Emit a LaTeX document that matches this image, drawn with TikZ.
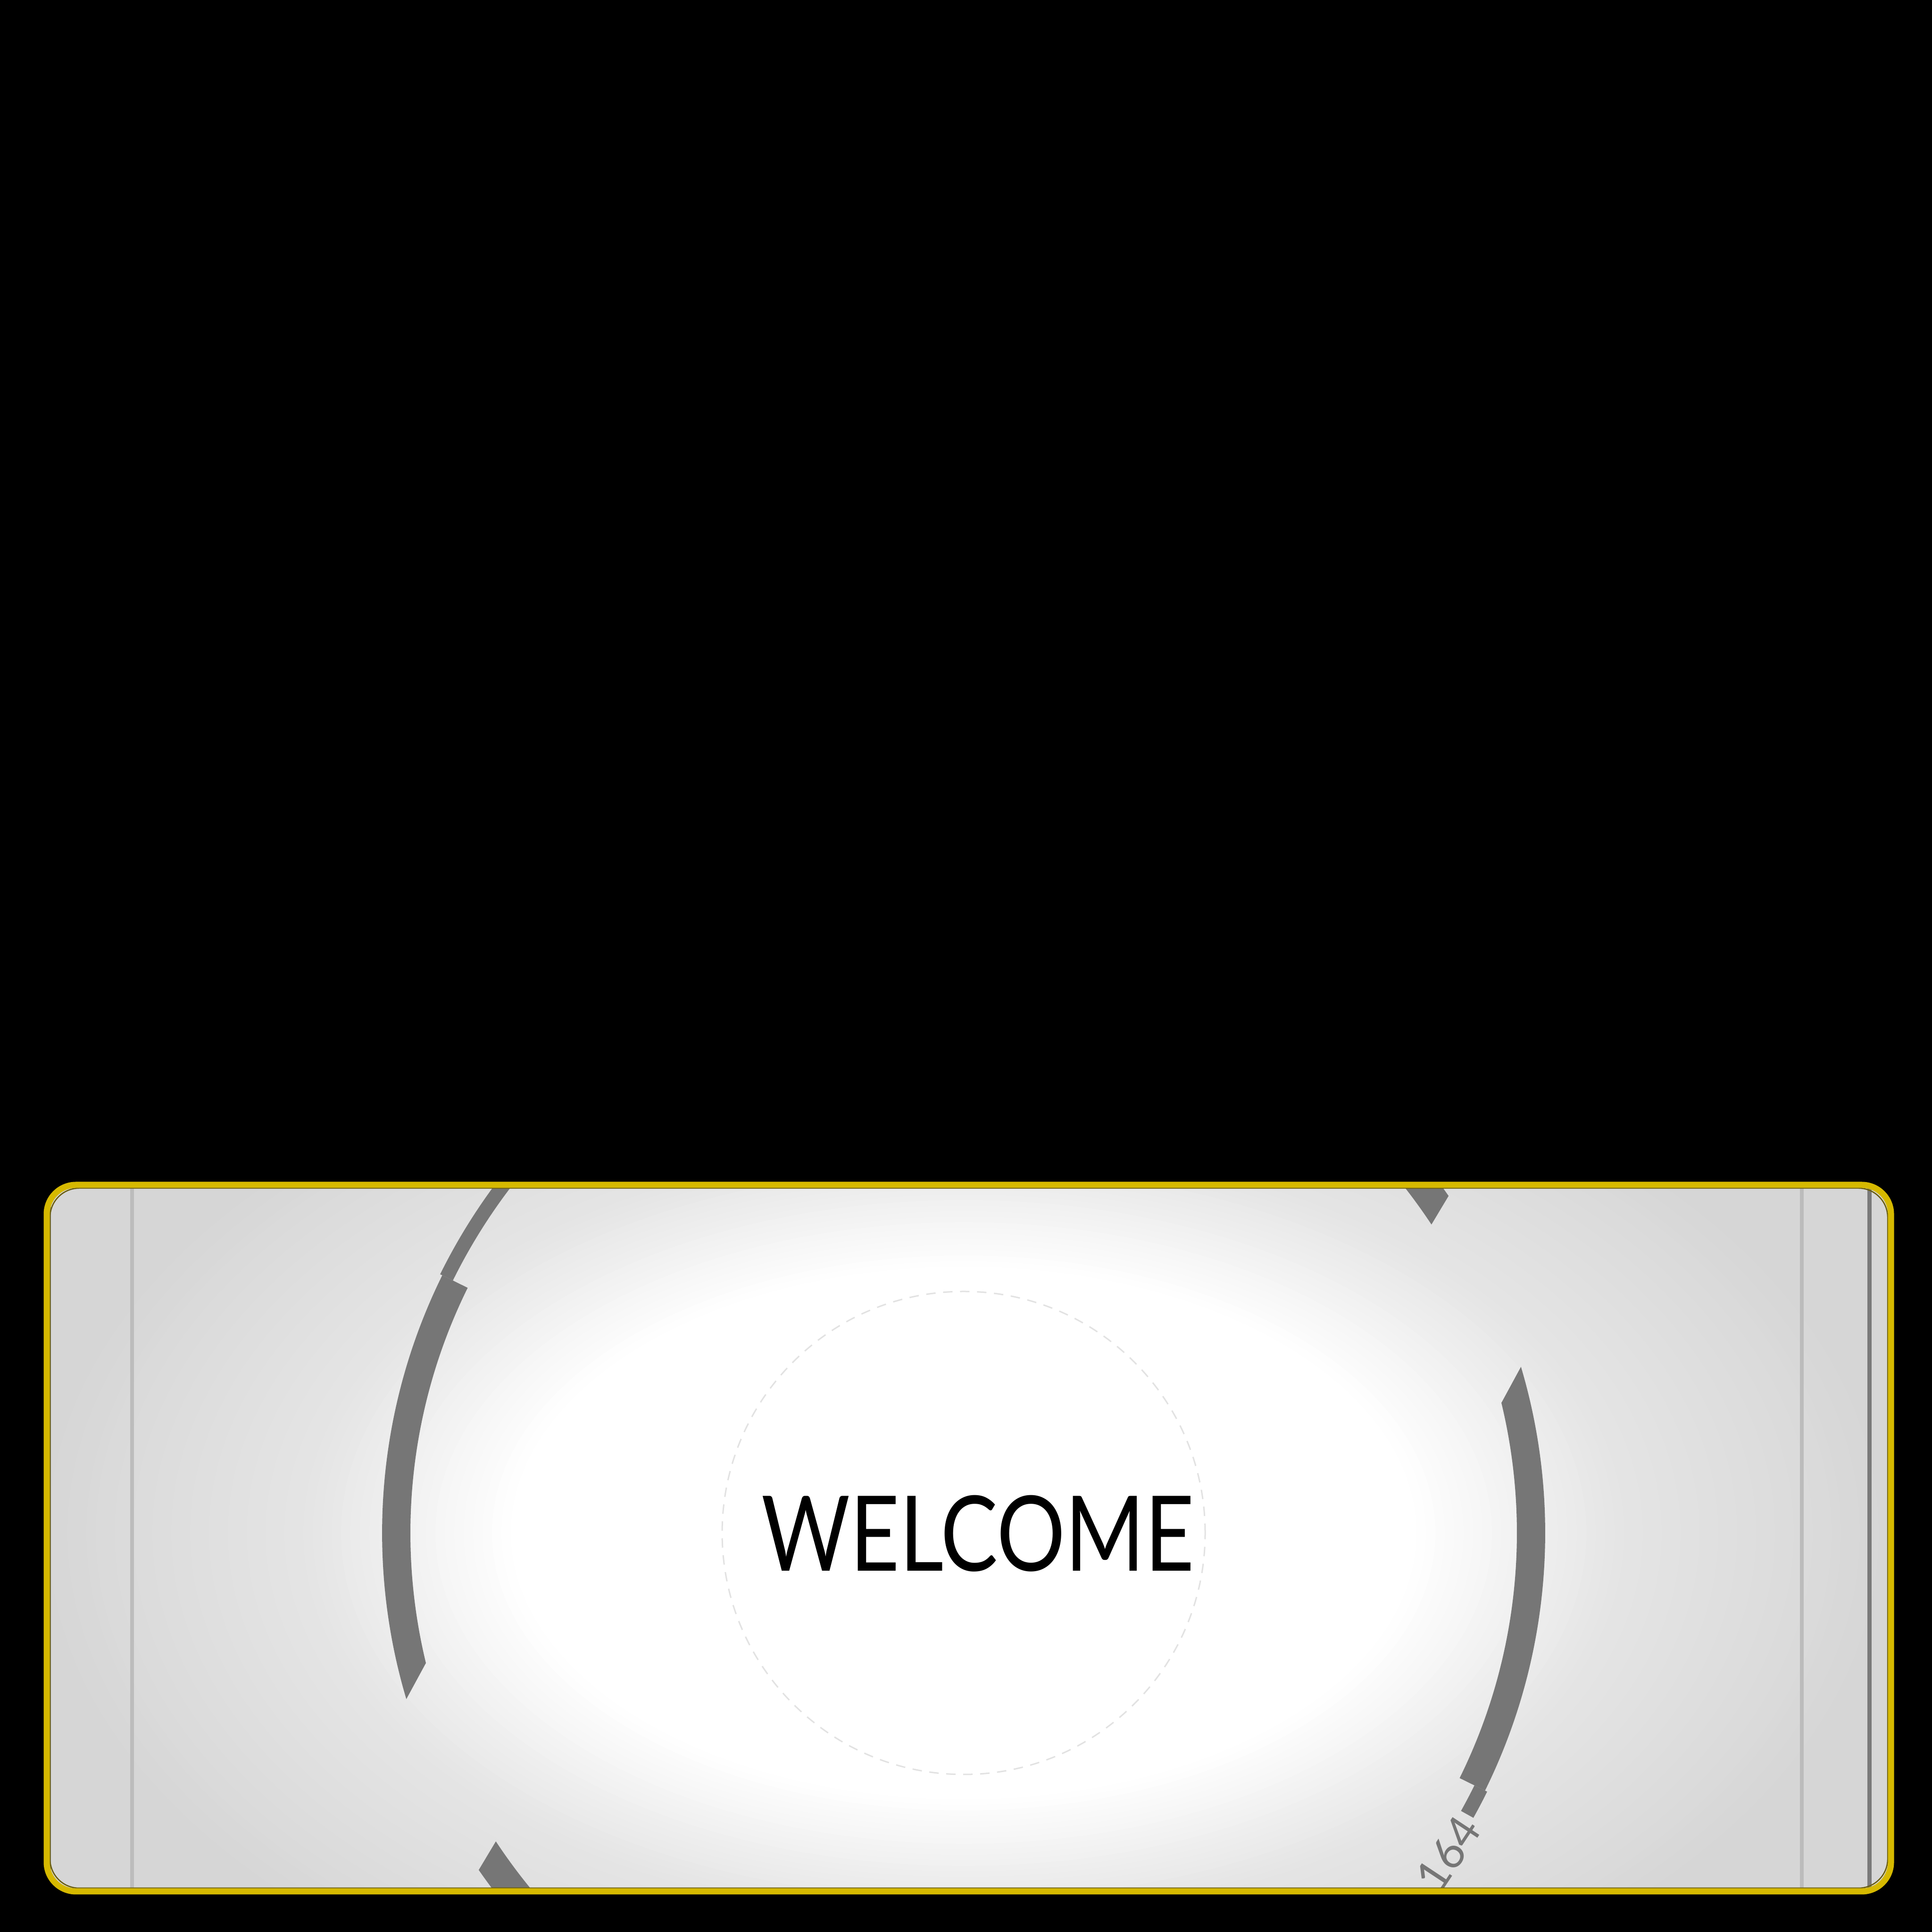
\documentclass[tikz,border=0pt]{standalone}
\usepackage{fontspec}
\setmainfont{Lato}
\newfontfamily\welcomefont[FakeStretch=0.82]{Lato}
\definecolor{framegold}{RGB}{214,185,0}
\definecolor{frameshadow}{RGB}{104,92,12}
\definecolor{panelgray}{RGB}{214,214,214}
\definecolor{ringgray}{RGB}{118,118,118}
\definecolor{guidegray}{RGB}{188,188,188}
\definecolor{edgegray}{RGB}{122,122,122}
\definecolor{dashgray}{RGB}{226,226,226}
% inner r, outer r, inner start, inner end, outer start, outer end
\newcommand{\ringpiece}[6]{%
  \fill[ringband] (#3:#1) arc[start angle=#3, end angle=#4, radius=#1]
    -- (#6:#2) arc[start angle=#6, end angle=#5, radius=#2] -- cycle;}

\begin{document}
\begin{tikzpicture}[ringband/.style={fill=ringgray},
                    panelbox/.style={rounded corners=6.2mm}]
                  % black page
                  \fill[black] (0,0) rectangle (40.96,40.96);
                  \useasboundingbox (0,0) rectangle (40.96,40.96);
                  \coordinate (hub) at (20.43,8.46);

                  \begin{scope}
                      \clip[panelbox] (0.99,0.86) rectangle (40.09,15.84);
                      % panel with glow, ellipses from outside in
                      \fill[panelgray] (0.99,0.86) rectangle (40.09,15.84);
                      \foreach \a in {20.2,20.0,...,9.4}{
                      \pgfmathsetmacro{\p}{\a>14 ? max(0,36*(19.8-\a)/5.8) : min(100,36+64*(14-\a)/4.4)}
                      \pgfmathsetmacro{\b}{\a/1.7}
                      \fill[white!\p!panelgray] (hub) ellipse [x radius=\a, y radius=\b];}

                      % draw vertical lines
                      \foreach \x/\col/\w in {1.05/edgegray/0.6mm, 2.80/guidegray/0.8mm, 38.20/guidegray/0.8mm, 39.63/edgegray/0.9mm}
                      \draw[\col, line width=\w] (\x,0) -- (\x,17);

                      % dashed circle
                      \draw[dashgray, line width=0.3mm, dash pattern=on 2mm off 1.6mm] (hub) circle (5.12);

                      % ring pieces, turned twice
                      \foreach \t in {0,180}{
                      \begin{scope}[shift={(hub)}, rotate=\t]
                          \ringpiece{11.73}{12.33}{13.6}{-26.3}{16.6}{-26.3}
                          \ringpiece{11.88}{12.52}{33.4}{60}{34.8}{60}
                      \end{scope}}
                      \begin{scope}[shift={(hub)}]
                          \ringpiece{12.08}{12.38}{-26.3}{-29.2}{-26.3}{-29.2}
                          \ringpiece{12.08}{12.38}{153.7}{130}{153.7}{130}
                          \node[ringgray, font=\fontsize{27}{30}\selectfont, rotate=56.5] (count) at (-33.5:12.32) {164};
                      \end{scope}

                      \node[inner sep=0pt, font=\welcomefont\fontsize{63}{70}\selectfont] (welcome) at (20.73,8.45) {WELCOME};
                  \end{scope}

                  % frame
                  \draw[frameshadow, line width=0.25mm, panelbox] (1.06,0.93) rectangle (40.02,15.77);
                  \draw[framegold, line width=1.3mm, panelbox] (0.99,0.86) rectangle (40.09,15.84);
\end{tikzpicture}
\end{document}
